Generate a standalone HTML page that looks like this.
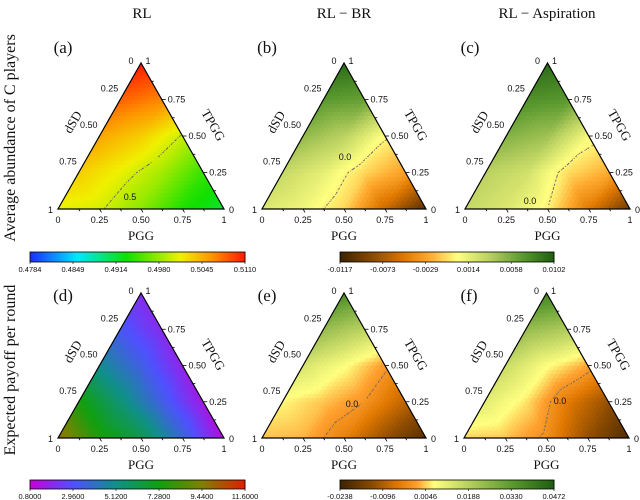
<!DOCTYPE html>
<html><head><meta charset="utf-8">
<style>
html,body{margin:0;padding:0;background:#fff;}
svg{display:block;}
.tk{font-family:"Liberation Sans",sans-serif;font-size:9px;fill:#111;}
.cb{font-family:"Liberation Sans",sans-serif;font-size:7.5px;fill:#111;}
.sf{font-family:"Liberation Serif",serif;fill:#111;}
</style></head>
<body>
<svg id="fig" width="640" height="500" viewBox="0 0 640 500" xmlns="http://www.w3.org/2000/svg">
<text class="sf" x="142" y="18" font-size="15" text-anchor="middle">RL</text>
<text class="sf" x="344" y="18" font-size="15" text-anchor="middle">RL − BR</text>
<text class="sf" x="547" y="18" font-size="15" text-anchor="middle">RL − Aspiration</text>
<text class="sf" transform="translate(15,138) rotate(-90)" font-size="16" text-anchor="middle">Average abundance of C players</text>
<text class="sf" transform="translate(15,370) rotate(-90)" font-size="16" text-anchor="middle">Expected payoff per round</text>
<g id="panels"></g>
</svg>
<script>
// lattice values, rows from TPGG=0 (base) to TPGG=1 (apex); within row PGG increases left->right (step 0.25)
const valuesA = [[0.5010,0.5003,0.4975,0.4935,0.4915],[0.5030,0.5010,0.4985,0.4945],[0.5050,0.5030,0.4998],[0.5080,0.5065],[0.5110]];
const valuesB = [[0.0020,0.0010,-0.0010,-0.0060,-0.0105],[0.0030,0.0015,-0.0010,-0.0030],[0.0050,0.0035,0.0003],[0.0070,0.0065],[0.0095]];
const valuesC = [[0.0030,0.0020,0.0000,-0.0050,-0.0095],[0.0035,0.0025,-0.0008,-0.0025],[0.0055,0.0045,0.0008],[0.0075,0.0070],[0.0095]];
const valuesD = [[10.0,7.6,6.2,3.8,1.2],[7.5,5.5,3.5,1.5],[5.0,3.5,1.8],[3.2,2.0],[2.0]];
const valuesE = [[0.004,0.003,-0.003,-0.012,-0.020],[0.007,0.004,0.000,-0.008],[0.014,0.008,0.001],[0.024,0.018],[0.036]];
const valuesF = [[0.005,0.004,-0.001,-0.012,-0.021],[0.012,0.006,-0.004,-0.012],[0.016,0.008,0.002],[0.024,0.020],[0.038]];
const rangeTopLeft = [0.4784,0.5110];
const rangeTopRight = [-0.0117,0.0102];
const rangeBotLeft = [0.8,11.6];
const rangeBotRight = [-0.0238,0.0472];
const ticksTopLeft = ["0.4784","0.4849","0.4914","0.4980","0.5045","0.5110"];
const ticksTopRight = ["-0.0117","-0.0073","-0.0029","0.0014","0.0058","0.0102"];
const ticksBotLeft = ["0.8000","2.9600","5.1200","7.2800","9.4400","11.6000"];
const ticksBotRight = ["-0.0238","-0.0096","0.0046","0.0188","0.0330","0.0472"];
const axisTicks = ["0","0.25","0.50","0.75","1"];

const cmJet=[[0,'#1a2cff'],[0.22,'#00e8ff'],[0.45,'#10e000'],[0.7,'#f0f000'],[0.85,'#ff9000'],[1,'#ff1a00']];
const cmTop=[[0,'#3c2200'],[0.15,'#8a4a00'],[0.3,'#e07800'],[0.42,'#ffaa30'],[0.55,'#ffff80'],[0.7,'#b8d060'],[0.85,'#5c9a30'],[1,'#1e5e10']];
const cmBot=[[0,'#3c2200'],[0.15,'#8a4a00'],[0.27,'#e07800'],[0.36,'#ffa030'],[0.44,'#ffff80'],[0.6,'#b8d060'],[0.8,'#5c9a30'],[1,'#1e5e10']];
const cmD=[[0,'#c800d8'],[0.2,'#5050ff'],[0.4,'#10908a'],[0.6,'#10a010'],[0.8,'#808000'],[1,'#e01e00']];

const NS='http://www.w3.org/2000/svg';
const root=document.getElementById('panels');
function hx(c){return [parseInt(c.slice(1,3),16),parseInt(c.slice(3,5),16),parseInt(c.slice(5,7),16)];}
function cmap(cm,t){t=Math.max(0,Math.min(1,t));for(let i=1;i<cm.length;i++){if(t<=cm[i][0]){const a=hx(cm[i-1][1]),b=hx(cm[i][1]);const f=(t-cm[i-1][0])/(cm[i][0]-cm[i-1][0]);return 'rgb('+a.map((v,k)=>Math.round(v+(b[k]-v)*f)).join(',')+')';}}return cm[cm.length-1][1];}
function mk(tag,attrs,parent){const e=document.createElementNS(NS,tag);for(const k in attrs)e.setAttribute(k,attrs[k]);(parent||root).appendChild(e);return e;}
function val(vals,p,t){
  const u=Math.min(p*4,4),v=Math.min(t*4,4);let i=Math.floor(v),j=Math.floor(u);
  if(i+j>=4){ if(i>=4)return vals[4][0]; j=Math.max(0,3-i); }
  if(i>3)i=3;
  let fu=u-j,fv=v-i;
  const g=(a,b)=>{ if(a+b>4||a>4) return null; return vals[a][b]; };
  const v00=g(i,j),v01=g(i,j+1),v10=g(i+1,j);
  if(fu+fv<=1||g(i+1,j+1)===null){return v00*(1-fu-fv)+v01*fu+v10*fv;}
  const v11=g(i+1,j+1);return v11*(fu+fv-1)+v01*(1-fv)+v10*(1-fu);
}
function panel(o){
  const W=o.br-o.bl,H=o.base-o.apex;
  const P=(p,t)=>[o.bl+p*W+t*W/2,o.base-t*H];
  const g=mk('g',{});
  
  
  const hm=mk('g',{},g);
  
  
  const n=36;const cont=[];
  for(let i=0;i<n;i++)for(let j=0;j<n-i;j++){
    const tris=[[[j,i],[j+1,i],[j,i+1]]];
    if(j+i+2<=n)tris.push([[j+1,i],[j+1,i+1],[j,i+1]]);
    for(const tr of tris){
      const pts=tr.map(q=>[q[0]/n,q[1]/n]);
      const vs=pts.map(q=>val(o.vals,q[0],q[1]));
      const m=(vs[0]+vs[1]+vs[2])/3;
      const c=cmap(o.cm,(m-o.range[0])/(o.range[1]-o.range[0]));
      mk('path',{d:'M'+pts.map(q=>P(q[0],q[1]).map(z=>z.toFixed(2)).join(',')).join('L')+'Z',fill:c,stroke:c,'stroke-width':0.6},hm);
      if(o.level!==null){
        const s=[];
        for(let k=0;k<3;k++){const a=vs[k],b=vs[(k+1)%3];if((a-o.level)*(b-o.level)<0){const f=(o.level-a)/(b-a);const A=pts[k],B=pts[(k+1)%3];s.push(P(A[0]+(B[0]-A[0])*f,A[1]+(B[1]-A[1])*f));}}
        if(s.length===2)cont.push(s);
      }
    }
  }
  if(o.level!==null){
    const cg=mk('g',{},g);
    
    
    let d='';for(const s of cont)d+='M'+s[0].map(z=>z.toFixed(2)).join(',')+'L'+s[1].map(z=>z.toFixed(2)).join(',');
    mk('path',{d:d,stroke:'#666','stroke-width':1,'stroke-dasharray':'1,1.5',fill:'none'},cg);
    const lt=mk('text',{x:o.lab[0],y:o.lab[1],class:'tk','font-size':8.5,'text-anchor':'middle'},g);
    lt.textContent=o.labText;
    
    
  }
  const A=P(0,1),L=P(0,0),R=P(1,0);
  const ol=mk('path',{d:`M${A}L${L}L${R}Z`,fill:'none',stroke:'#000','stroke-width':1.2},g);
  
  
  const tk=mk('g',{stroke:'#000','stroke-width':0.8},g);
  
  
  for(let k=1;k<8;k++){const f=k/8,len=(k%2===0)?4:2.5;
    let q=P(f,0);mk('line',{x1:q[0],y1:q[1],x2:q[0]+len*0.5,y2:q[1]+len*0.87},tk);
    q=P(0,f);mk('line',{x1:q[0],y1:q[1],x2:q[0]-len*0.5,y2:q[1]+len*0.87},tk);
    q=P(1-f,f);mk('line',{x1:q[0],y1:q[1],x2:q[0]+len,y2:q[1]},tk);
  }
  const lab=(x,y,s,anchor,name)=>{const t=mk('text',{x:x,y:y,class:'tk','text-anchor':anchor},g);t.textContent=s;};
  for(let k=0;k<5;k++){const f=k/4;const q=P(f,0);lab(q[0],q[1]+14,axisTicks[k],'middle','pgg-tick-label');}
  for(let k=1;k<4;k++){const f=k/4;const q=P(0,1-f);lab(q[0]-2,q[1]-8,axisTicks[k],'end','dsd-tick-label');}
  for(let k=1;k<4;k++){const f=k/4;const q=P(1-f,f);lab(q[0]+6,q[1]+3,axisTicks[k],'start','tpgg-tick-label');}
  lab(L[0]-5,L[1]+4,'1','end','dsd-tick-label');
  lab(R[0]+5,R[1]+4,'0','start','tpgg-tick-label');
  lab(A[0]-10,A[1]+1,'0','middle','dsd-tick-label');
  lab(A[0]+7,A[1]+1,'1','middle','tpgg-tick-label');
  const t1=mk('text',{x:(L[0]+R[0])/2,y:L[1]+31,class:'sf','font-size':13,'text-anchor':'middle'},g);t1.textContent='PGG';
  
  const m1=P(0,0.56);const t2=mk('text',{transform:`translate(${m1[0]-28},${m1[1]-3}) rotate(-60)`,class:'sf','font-size':13,'text-anchor':'middle'},g);t2.textContent='dSD';
  
  const m2=P(0.44,0.56);const t3=mk('text',{transform:`translate(${m2[0]+32},${m2[1]}) rotate(60)`,class:'sf','font-size':13,'text-anchor':'middle'},g);t3.textContent='TPGG';
  
  const pl=mk('text',{x:o.bl+5,y:o.ly,class:'sf','font-size':17,'text-anchor':'middle'},g);pl.textContent='('+o.id+')';
  
}
function colorbar(x,y,w,h,cm,ticks,name){
  const g=mk('g',{});
  
  
  const N=120;
  for(let i=0;i<N;i++){const c=cmap(cm,(i+0.5)/N);mk('rect',{x:x+i*w/N,y:y,width:w/N+0.5,height:h,fill:c},g);}
  mk('rect',{x:x,y:y,width:w,height:h,fill:'none',stroke:'#000','stroke-width':0.8},g);
  ticks.forEach((s,i)=>{const tx=x+i*w/(ticks.length-1);
    mk('line',{x1:tx,y1:y+h,x2:tx,y2:y+h+2,stroke:'#000','stroke-width':0.6},g);
    const t=mk('text',{x:tx,y:y+h+10,class:'cb','text-anchor':'middle'},g);t.textContent=s;
    });
}
panel({id:'a',bl:58,br:224,base:209,apex:63,ly:53,vals:valuesA,range:rangeTopLeft,cm:cmJet,level:0.5,lab:[130,200],labText:'0.5'});
panel({id:'b',bl:262,br:426,base:209,apex:63,ly:53,vals:valuesB,range:rangeTopRight,cm:cmTop,level:0,lab:[345,160],labText:'0.0'});
panel({id:'c',bl:465,br:630,base:209,apex:63,ly:53,vals:valuesC,range:rangeTopRight,cm:cmTop,level:0,lab:[530,204],labText:'0.0'});
panel({id:'d',bl:58,br:224,base:438,apex:293,ly:301,vals:valuesD,range:rangeBotLeft,cm:cmD,level:null});
panel({id:'e',bl:262,br:426,base:438,apex:293,ly:301,vals:valuesE,range:rangeBotRight,cm:cmBot,level:0,lab:[352,407],labText:'0.0'});
panel({id:'f',bl:464,br:629,base:438,apex:293,ly:301,vals:valuesF,range:rangeBotRight,cm:cmBot,level:0,lab:[560,404],labText:'0.0'});
colorbar(30,252,215,10,cmJet,ticksTopLeft,'colorbar-rl-abundance');
colorbar(340,252,214,10,cmTop,ticksTopRight,'colorbar-diff-abundance');
colorbar(30,480,215,9,cmD,ticksBotLeft,'colorbar-rl-payoff');
colorbar(340,480,214,9,cmBot,ticksBotRight,'colorbar-diff-payoff');
</script>
</body></html>
